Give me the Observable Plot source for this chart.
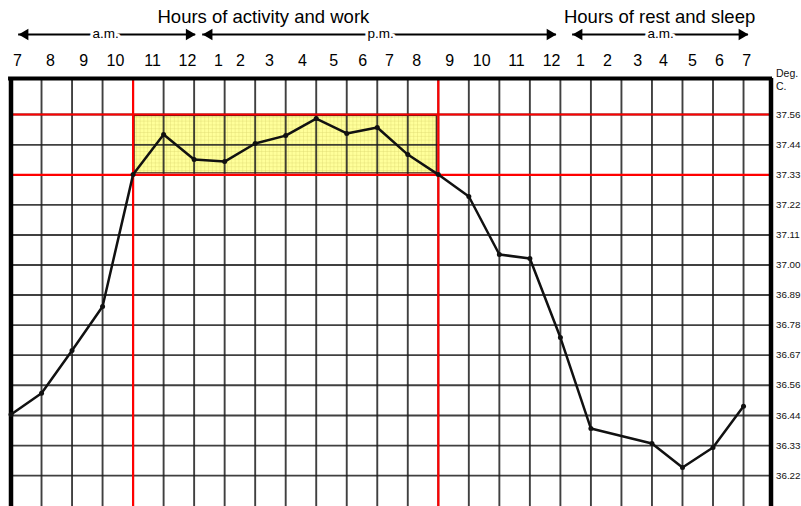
<!DOCTYPE html>
<html>
<head>
<meta charset="utf-8">
<script src="https://cdn.jsdelivr.net/npm/d3@7"></script>
<script src="https://cdn.jsdelivr.net/npm/@observablehq/plot@0.6"></script>
<style>
  html, body { margin: 0; padding: 0; background: #fff; }
  #chart svg { display: block; }
</style>
</head>
<body>
<div id="chart"></div>
<script>
// ---- data ----
// hourly columns of the chart (column 20 has no plotted point)
const columns = [0, 1, 2, 3, 4, 5, 6, 7, 8, 9, 10, 11, 12, 13, 14, 15, 16, 17, 18, 19, 21, 22, 23, 24];
// body temperature, deg C
const temps = [36.448, 36.526, 36.684, 36.847, 37.334, 37.482, 37.390, 37.382, 37.449, 37.478, 37.541, 37.486,
               37.508, 37.408, 37.334, 37.253, 37.039, 37.024, 36.732, 36.396, 36.341, 36.252, 36.326, 36.478];

// hour labels across the top and their place along the column axis
const hourLabels = ["7", "8", "9", "10", "11", "12", "1", "2", "3", "4", "5", "6", "7", "8", "9", "10", "11", "12",
                    "1", "2", "3", "4", "5", "6", "7"];
const hourLabelCol = [0.21, 1.29, 2.38, 3.42, 4.64, 5.78, 6.80, 7.52, 8.47, 9.55, 10.57, 11.52, 12.40, 13.29,
                      14.37, 15.42, 16.56, 17.71, 18.66, 19.54, 20.53, 21.38, 22.33, 23.21, 24.10];

// temperature grid / tick labels
const tickValues = [37.556, 37.444, 37.333, 37.222, 37.111, 37.000, 36.889, 36.778, 36.667, 36.556, 36.444, 36.333, 36.222];
const tickLabels = ["37.56", "37.44", "37.33", "37.22", "37.11", "37.00", "36.89", "36.78", "36.67", "36.56", "36.44", "36.33", "36.22"];
const gridColumns = [1, 2, 3, 4, 5, 6, 7, 8, 9, 10, 11, 12, 13, 14, 15, 16, 17, 18, 19, 20, 21, 22, 23, 24];

// periods (arrows) and headings
const periods = ["a.m.", "p.m.", "a.m."];
const periodFrom = [0.25, 6.28, 18.40];
const periodTo = [6.05, 17.87, 24.16];
const periodMid = [3.10, 12.11, 21.28];
const headings = ["Hours of activity and work", "Hours of rest and sleep"];
const headingCol = [8.27, 21.25];

// highlighted normal band and activity span
const normalBand = [37.333, 37.556];
const activeSpan = [4, 14];

const xDomain = [0, 24.9];
const yDomain = [36.108, 37.689];
const yTop = yDomain[1];

const points = columns.map((c, i) => ({col: c, t: temps[i]}));

const chart = Plot.plot({
  width: 801,
  height: 506,
  marginTop: 78,
  marginBottom: 0,
  marginLeft: 10.5,
  marginRight: 30.5,
  x: {domain: xDomain, axis: null},
  y: {domain: yDomain, axis: null},
  style: {fontFamily: "'Liberation Sans', Arial, Helvetica, sans-serif", color: "#000", background: "#fff", overflow: "visible"},
  marks: [
    // yellow highlighted box
    Plot.rect([0], {
      x1: () => activeSpan[0], x2: () => activeSpan[1],
      y1: () => normalBand[0], y2: () => normalBand[1],
      fill: "url(#fineGrid)", stroke: "#3a1a10", strokeWidth: 1.2, inset: 1.5
    }),
    // grid
    Plot.ruleY(tickValues, {stroke: "#1e1e1e", strokeWidth: 1.9, strokeOpacity: 0.85}),
    Plot.ruleX(gridColumns, {stroke: "#1e1e1e", strokeWidth: 1.9, strokeOpacity: 0.85}),
    // red reference lines
    Plot.ruleY(normalBand, {stroke: "#ff0000", strokeWidth: 2.2}),
    Plot.ruleX(activeSpan, {stroke: "#ff0000", strokeWidth: 2.2}),
    // frame (left, right, top)
    Plot.ruleX(xDomain, {stroke: "#000", strokeWidth: 4.5}),
    Plot.ruleY([yTop], {x1: () => xDomain[0] - 0.08, x2: () => xDomain[1] + 0.05, stroke: "#000", strokeWidth: 4}),
    // temperature curve
    Plot.line(points, {x: "col", y: "t", stroke: "#111", strokeWidth: 2.5, strokeLinejoin: "round"}),
    Plot.dot(points, {x: "col", y: "t", r: 2.5, fill: "#111"}),
    // y tick labels
    Plot.text(tickValues, {y: d => d, text: (d, i) => tickLabels[i], frameAnchor: "right", textAnchor: "start", dx: 5, fontSize: 9.8, fill: "#111"}),
    Plot.text(["Deg."], {frameAnchor: "top-right", textAnchor: "start", dx: 5, dy: -9, fontSize: 10.5, fill: "#111"}),
    Plot.text(["C."], {frameAnchor: "top-right", textAnchor: "start", dx: 5, dy: 4, fontSize: 10.5, fill: "#111"}),
    // hour labels
    Plot.text(hourLabels, {x: (d, i) => hourLabelCol[i], text: d => d, frameAnchor: "top", dy: -23.5, fontSize: 16, fill: "#000"}),
    // period arrows
    Plot.ruleY(periods, {x1: (d, i) => periodFrom[i], x2: (d, i) => periodTo[i], y: () => yTop, dy: -44, stroke: "#000", strokeWidth: 2}),
    Plot.dot(periods, {x: (d, i) => periodFrom[i], y: () => yTop, dy: -44, dx: 6.5, symbol: "triangle", r: 4.2, fill: "#000", rotate: -90}),
    Plot.dot(periods, {x: (d, i) => periodTo[i], y: () => yTop, dy: -44, dx: -6.5, symbol: "triangle", r: 4.2, fill: "#000", rotate: 90}),
    Plot.text(periods, {x: (d, i) => periodMid[i], y: () => yTop, dy: -44.5, text: d => d, fontSize: 13.5, fill: "#000", stroke: "#fff", strokeWidth: 6, strokeLinejoin: "round"}),
    // headings
    Plot.text(headings, {x: (d, i) => headingCol[i], y: () => yTop, dy: -61.5, text: d => d, fontSize: 18.5, fill: "#000"})
  ]
});

// fine graph-paper texture used for the highlighted box
const ns = "http://www.w3.org/2000/svg";
const defs = document.createElementNS(ns, "defs");
defs.innerHTML = '<pattern id="fineGrid" width="3.8" height="3.8" patternUnits="userSpaceOnUse">' +
  '<rect width="3.8" height="3.8" fill="#ffff9a"/>' +
  '<path d="M3.8 0V3.8M0 3.8H3.8" stroke="#d9d36a" stroke-width="0.7"/></pattern>';
chart.insertBefore(defs, chart.firstChild);

document.getElementById("chart").appendChild(chart);
</script>
</body>
</html>
